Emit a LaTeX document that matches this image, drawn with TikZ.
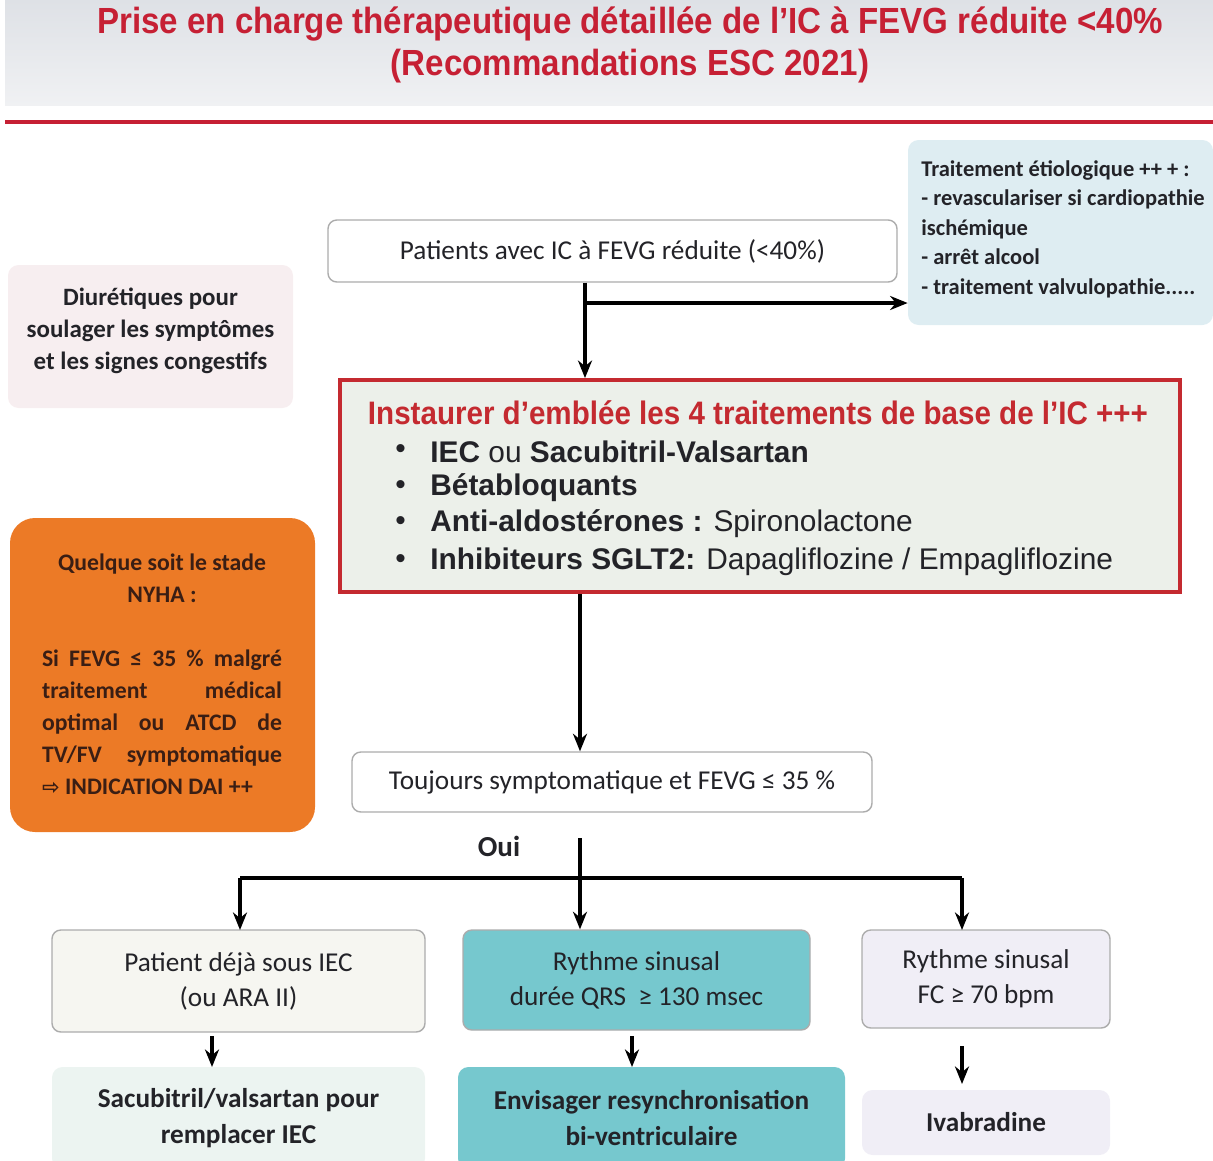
\documentclass[tikz,border=0pt]{standalone}
\usepackage{fontspec}
\setmainfont{Carlito}
\newfontfamily\narrowfont[FakeStretch=0.91]{Liberation Sans}
\newfontfamily\arialfont{Liberation Sans}
\newfontfamily\symfont{DejaVu Sans}
\usetikzlibrary{arrows.meta}

\definecolor{titlered}{RGB}{198,32,52}
\definecolor{headtop}{RGB}{222,225,230}
\definecolor{headbot}{RGB}{240,241,243}
\definecolor{basered}{RGB}{196,42,48}
\definecolor{baseback}{RGB}{236,240,234}
\definecolor{etioblue}{RGB}{222,237,242}
\definecolor{diurpink}{RGB}{247,238,240}
\definecolor{orangebox}{RGB}{236,122,38}
\definecolor{orangetext}{RGB}{58,30,20}
\definecolor{tealbox}{RGB}{118,200,206}
\definecolor{ivorybox}{RGB}{246,246,241}
\definecolor{mintbox}{RGB}{236,244,241}
\definecolor{lilacbox}{RGB}{240,238,246}
\definecolor{textdark}{RGB}{35,35,40}

\tikzset{
  size/.style 2 args={minimum width=#1*0.02cm, minimum height=#2*0.02cm},
  box/.style={draw=gray!65, line width=0.8pt, rounded corners=5pt, inner sep=0pt,
    text=textdark, font=\fontsize{15.5}{20}\selectfont, align=center},
  flat/.style={rounded corners=6pt, inner sep=0pt, text=textdark,
    font=\bfseries\fontsize{15.5}{20}\selectfont, align=center},
  arrow/.style={-{Stealth[length=10pt,width=8pt]}, line width=2.1pt, black},
  link/.style={line width=2.1pt, black},
  bulletitem/.style={anchor=west, inner sep=0pt, font=\arialfont\fontsize{17}{20}\selectfont, text=textdark}
}

\begin{document}
\begin{tikzpicture}[x=0.02cm, y=-0.02cm]
    \useasboundingbox (0,0) rectangle (1213,1160);
    % header band
    \shade[top color=headtop, bottom color=headbot] (5,0) rectangle (1213,105);
    \draw[titlered, line width=1.8pt] (5,122) -- (1213,122);
    \node[font=\narrowfont\bfseries\fontsize{20.7}{23.5}\selectfont, text=titlered, align=center] (title) at (630,45)
        {Prise en charge thérapeutique détaillée de l’IC à FEVG réduite <40\%\\(Recommandations ESC 2021)};

    % side boxes
    \node[flat, fill=etioblue, size={305}{185}] (etio) at (1060.5,232.5) {};
    \node[anchor=west, align=left, inner sep=0pt, text=textdark, font=\bfseries\fontsize{12.8}{16.8}\selectfont] (etiotext) at (921,229)
        {Traitement étiologique ++ + :\\- revasculariser si cardiopathie\\ischémique\\- arrêt alcool\\- traitement valvulopathie.....};
    \node[flat, fill=diurpink, size={285}{143}] (diur) at (150.5,336.5) {};
    \node[text=textdark, align=center, font=\bfseries\fontsize{14.2}{18.2}\selectfont] (diurtext) at (150.5,331)
        {Diurétiques pour\\soulager les symptômes\\et les signes congestifs};
    \node[flat, rounded corners=0.5cm, fill=orangebox, size={305}{314}] (dai) at (162.5,675) {};
    \node[text=orangetext, align=center, font=\bfseries\fontsize{13.5}{18.2}\selectfont] (daihead) at (162,578)
        {Quelque soit le stade\\NYHA :};
    \node[text=orangetext, align=left, inner sep=0pt, font=\bfseries\fontsize{13.5}{18.2}\selectfont] (daibody) at (162,722)
        {\makebox[4.8cm][s]{Si FEVG ≤ 35 \% malgré}\\
         \makebox[4.8cm][s]{traitement médical}\\
         \makebox[4.8cm][s]{optimal ou ATCD de}\\
         \makebox[4.8cm][s]{TV/FV symptomatique}\\
         {\symfont\fontsize{12}{18.2}\selectfont ⇨} INDICATION DAI ++};

    % main column
    \node[box, fill=white, size={569}{62}] (pat) at (612.5,251) {Patients avec IC à FEVG réduite (<40\%)};
    \node[draw=basered, line width=2.2pt, fill=baseback, inner sep=0pt, size={840}{212}] (base) at (760,486) {};
    \node[font=\narrowfont\bfseries\fontsize{18.5}{22}\selectfont, text=basered] (basetitle) at (758,413)
        {Instaurer d’emblée les 4 traitements de base de l’IC +++};
    \foreach \y/\txt [count=\i] in {452/{\textbf{IEC} ou \textbf{Sacubitril-Valsartan}},
                                    488/{\textbf{Bétabloquants}},
                                    524/{\textbf{Anti-aldostérones :} Spironolactone},
                                    562/{\textbf{Inhibiteurs SGLT2:} Dapagliflozine / Empagliflozine}} {
        \node[bulletitem] (dot\i) at (395,\y) {\textbullet};
        \node[bulletitem] (item\i) at (430,\y) {\txt};
    }
    \node[box, fill=white, size={520}{60}] (tjrs) at (612,782) {Toujours symptomatique et FEVG ≤ 35 \%};
    \node[font=\bfseries\fontsize{16.5}{18}\selectfont, text=textdark] (oui) at (499,846) {Oui};

    % three branches
    \node[box, fill=ivorybox, size={373}{102}] (ara) at (238.5,981) {Patient déjà sous IEC\\(ou ARA II)};
    \node[box, fill=tealbox, size={347}{100}] (qrs) at (636.5,980) {Rythme sinusal\\durée QRS \ ≥ 130 msec};
    \node[box, fill=lilacbox, size={248}{98}] (fc) at (986,979) {Rythme sinusal\\FC ≥ 70 bpm};
    \node[flat, fill=mintbox, size={373}{102}] (sacu) at (238.5,1118) {Sacubitril/valsartan pour\\remplacer IEC};
    \node[flat, fill=tealbox, size={387}{102}] (crt) at (651.5,1118) {Envisager resynchronisation\\bi-ventriculaire};
    \node[flat, fill=lilacbox, size={248}{65}] (ivab) at (986,1122.5) {Ivabradine};

    % connectors
    \coordinate (split) at (585,303);
    \coordinate (fork) at (580,838);
    \draw[arrow] (pat.south -| split) -- (base.north -| split);
    \draw[arrow] (split) -- (split -| etio.west);
    \draw[arrow] (base.south -| fork) -- (tjrs.north -| fork);
    \draw[arrow] (fork) -- (qrs.north -| fork);
    \draw[link] (240,878) -- (962,878);
    \draw[arrow] (240,878) -- (240,930);
    \draw[arrow] (962,878) -- (962,930);
    \draw[arrow] (212,1036) -- (212,1067);
    \draw[arrow] (632,1036) -- (632,1067);
    \draw[arrow] (962,1046) -- (962,1084);
\end{tikzpicture}
\end{document}
